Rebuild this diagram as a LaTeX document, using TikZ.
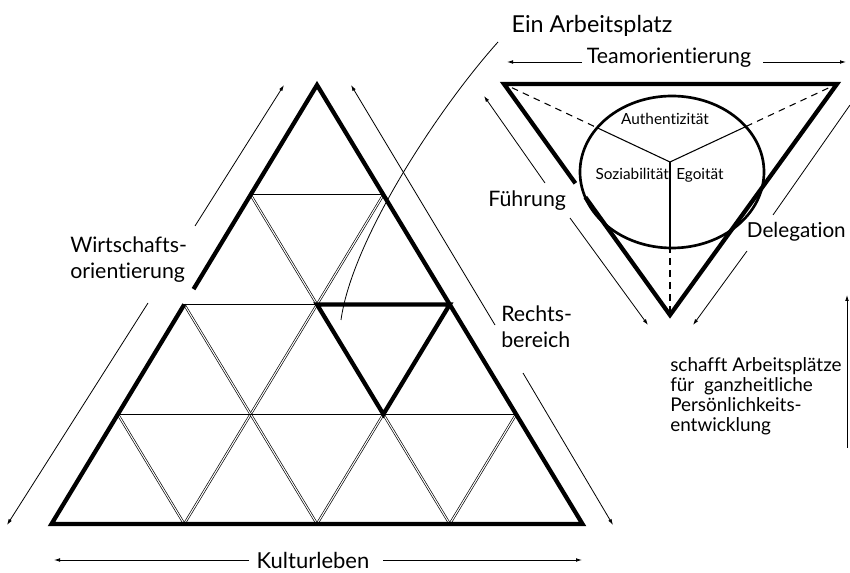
\documentclass[tikz,border=0pt]{standalone}
\usepackage{fontspec}
\setmainfont{Lato}[Ligatures=NoCommon]
\usetikzlibrary{calc,arrows.meta}

\begin{document}
\begin{tikzpicture}[
  x=0.75pt,y=-0.75pt,
  outer_edge/.style={line width=3.2pt,line join=miter},
  grid_hline/.style={line width=0.9pt},
  grid_diag/.style={double,double distance=0.8pt,line width=0.5pt},
  hint_arrow/.style={line width=0.6pt,-{Latex[length=4.5pt,width=2.8pt]}},
  hint_line/.style={line width=0.6pt},
  big_label/.style={font=\fontsize{16}{19.5}\selectfont,inner sep=0pt,align=left},
  list_label/.style={font=\fontsize{14.2}{15.2}\selectfont,inner sep=0pt,align=left},
  small_label/.style={font=\fontsize{11.5}{13}\selectfont,inner sep=0pt}
  ]
  \useasboundingbox (0,0) rectangle (850,573);

%big triangle
  \foreach \k in {0,...,4}
    \foreach \j in {0,...,\k}
      \coordinate (p_\k_\j) at ({317+66.375*(2*\j-\k)},{85+109.75*\k});

  \foreach \k/\r in {1/3,2/2,3/1}
  {
    \draw[grid_diag] (p_\k_0) -- (p_4_\r);
    \draw[grid_diag] (p_\k_\k) -- (p_4_\k);
  }
  \foreach \k in {1,2,3}
    \draw[grid_hline] (p_\k_0) -- (p_\k_\k);

  \draw[outer_edge] (p_2_0) -- (p_4_0) -- (p_4_4) -- (p_0_0) -- ($(p_0_0)!0.93!(p_2_0)$);
  \draw[outer_edge] (p_2_1) -- (p_2_2) -- (p_3_2) -- cycle;

%inverted triangle
  \coordinate (inv_left) at (504,84);
  \coordinate (inv_right) at (837,84);
  \coordinate (inv_bottom) at (670,315);
  \coordinate (inv_mid) at (670,162);
  \coordinate (inv_center) at (672,172);

  \draw[line width=0.8pt,dash pattern=on 5pt off 4pt] (inv_mid) -- (inv_left);
  \draw[line width=0.8pt,dash pattern=on 5pt off 4pt] (inv_mid) -- (inv_right);
  \draw[line width=0.8pt,dash pattern=on 5pt off 4pt] (inv_mid) -- (inv_bottom);
  \fill[white] (inv_center) ellipse [x radius=69pt,y radius=57pt];
  \begin{scope}
    \clip (inv_center) ellipse [x radius=69pt,y radius=57pt];
    \draw[line width=0.8pt] (inv_mid) -- (inv_left);
    \draw[line width=0.8pt] (inv_mid) -- (inv_right);
    \draw[line width=0.8pt] (inv_mid) -- (inv_bottom);
  \end{scope}
  \draw[line width=2pt] (inv_center) ellipse [x radius=69pt,y radius=57pt];

  \draw[outer_edge] ($(inv_left)!0.49!(inv_bottom)$) -- (inv_bottom) -- (inv_right) -- (inv_left) -- ($(inv_left)!0.43!(inv_bottom)$);

  \node (authentizitaet) [small_label,anchor=base] at (665,125) {Authentizität};
  \node (soziabilitaet) [small_label,anchor=base east] at (669,180) {Soziabilität};
  \node (egoitaet) [small_label,anchor=base west] at (676,180) {Egoität};

%labels
  \node (arbeitsplatz) [big_label,font=\fontsize{17.5}{20}\selectfont,anchor=base] at (592,33) {Ein Arbeitsplatz};
  \node (team) [big_label,anchor=base] at (669,64) {Teamorientierung};
  \node (wirtschaft) [big_label,anchor=base west] at (70,279) {Wirtschafts-\\orientierung};
  \node (recht) [big_label,anchor=base west] at (501,348) {Rechts-\\bereich};
  \node (fuehrung) [big_label,anchor=base west] at (488,207) {Führung};
  \node (delegation) [big_label,font=\fontsize{15.5}{19}\selectfont,anchor=base east] at (846,238) {Delegation};
  \node (kultur) [big_label,font=\fontsize{16.5}{19.5}\selectfont,anchor=base] at (313,568) {Kulturleben};
  \node (schafft) [list_label,anchor=base west] at (670,432) {schafft Arbeitsplätze\\für\ \ ganzheitliche\\Persönlichkeits-\\entwicklung};

%arrows
  \draw[hint_arrow] (195,226) -- (284,85);
  \draw[hint_arrow] (148,303) -- (7,525);
  \draw[hint_arrow] (495,325) -- (351,85);
  \draw[hint_arrow] (523,373) -- (613,525);
  \draw[hint_arrow] (249,560) -- (54,560);
  \draw[hint_arrow] (383,560) -- (582,560);
  \draw[hint_arrow] (582,62) -- (507,62);
  \draw[hint_arrow] (763,62) -- (846,62);
  \draw[hint_arrow] (545,183) -- (484,96);
  \draw[hint_arrow] (570,218) -- (648,325);
  \draw[hint_line] (773,215) -- (850,105);
  \draw[hint_arrow] (747,251) -- (693,325);
  \draw[hint_arrow] (847,448) -- (847,295);

  \coordinate (platz_foot) at (341,320);
  \coordinate (platz_end) at (498,42);
  \draw[hint_line] (platz_foot) .. controls (352,240) and (438,109) .. (platz_end);

\end{tikzpicture}
\end{document}
